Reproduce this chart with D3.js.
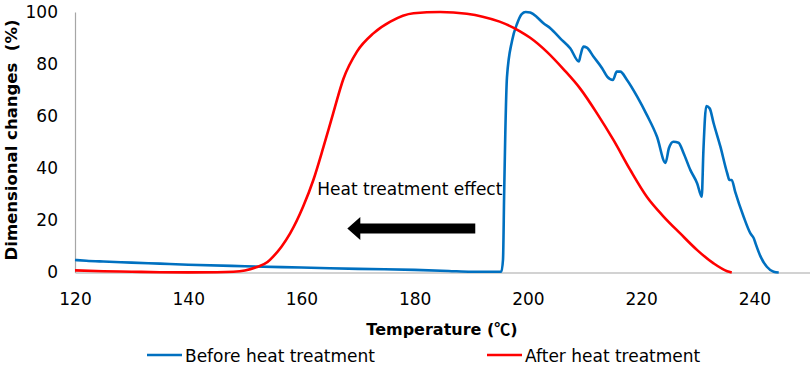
<!DOCTYPE html>
<html>
<head>
<meta charset="utf-8">
<script src="https://cdn.jsdelivr.net/npm/d3@7"></script>
<style>
  body { margin: 0; background: #fff; }
  #chart { width: 810px; height: 370px; }
  text { font-family: "DejaVu Sans", Verdana, sans-serif; fill: #000; }
</style>
</head>
<body>
<div id="chart"></div>
<script>
// Before heat treatment (blue)
var beforeTemp = [120, 122, 125, 130, 135, 140, 150, 160, 170, 180, 186, 190, 195.3,
  195.6, 195.8, 196.0, 196.3, 197.2, 198.1, 198.9, 199.6, 200.4, 201.0, 202.8, 204.0, 205.7,
  207.5, 209.0, 209.3, 209.8, 210.4, 211.6, 213.1, 214.0, 215.0, 215.7, 216.3, 217.5,
  219.3, 221.0, 222.8, 224.3, 224.9, 225.7, 226.6, 227.5, 228.7, 229.9, 230.7, 231.0,
  231.5, 232.1, 232.8, 234.0, 235.2, 235.6, 236.0, 236.6, 238.1, 239.3, 239.9, 240.2,
  241.1, 242.2, 243.4, 244.3];
var beforeVal = [4.8, 4.5, 4.2, 3.8, 3.4, 3.0, 2.4, 1.9, 1.4, 1.0, 0.6, 0.3, 0.3,
  5, 30, 53, 75, 89, 95.6, 99.2, 100, 99.8, 99.1, 95.6, 93.7, 89.9,
  86, 81, 83.5, 86.7, 86.3, 82.8, 78.4, 75.2, 73.9, 77.1, 77.1, 73.9,
  67.5, 60.5, 52.1, 42.1, 47.7, 50.2, 49.8, 45.8, 39.3, 34.2, 29.1, 47,
  63.9, 63.0, 57.3, 48.3, 38.1, 35.5, 35.5, 31, 21.4, 15, 13.1, 11.2,
  6.1, 2.2, 0.3, 0];

// After heat treatment (red)
var afterTemp = [120, 125, 130, 135, 140, 145, 148, 150, 152, 154, 155, 156.5, 158,
  160.3, 162.1, 163.9, 165.6, 167.4, 169.8, 172.7, 175.7, 179.8, 184.5, 189.2, 192,
  195, 198.6, 200.4, 203.4, 206.3, 209.3, 212.2, 215.1, 218.1, 221.0, 224.0, 226.9,
  229.9, 232.8, 235.2, 236.0];
var afterVal = [0.8, 0.5, 0.3, 0.1, 0.05, 0.1, 0.3, 0.8, 2.0, 4.0, 6.1, 10, 15,
  25.3, 35.5, 48.3, 61.1, 74.3, 84.8, 91.8, 96.3, 99.5, 100, 99.3, 98.2,
  96.3, 92.6, 90.1, 84.6, 78.0, 70.4, 61.1, 50.9, 39.3, 29.1, 21.4, 15,
  8.6, 3.5, 0.5, 0];

var xTicks = [120, 140, 160, 180, 200, 220, 240];
var yTicks = [0, 20, 40, 60, 80, 100];

var seriesNames = ["Before heat treatment", "After heat treatment"];
var seriesColors = ["#0070c0", "#ff0000"];

var width = 810;
var height = 370;
var margin = {top: 12, left: 75, right: -1, bottom: 97.5};

var svg = d3.select("#chart")
    .append("svg")
    .attr("width", width)
    .attr("height", height);

var xScale = d3.scaleLinear()
    .domain([120, 250])
    .range([margin.left, width - margin.right]);

var yScale = d3.scaleLinear()
    .domain([0, 100])
    .range([height - margin.bottom, margin.top]);

// axes, no tick marks
var xAxis = svg.append("g")
    .attr("transform", `translate(0,${yScale(0)})`)
    .call(d3.axisBottom(xScale).tickValues(xTicks).tickSize(0).tickPadding(20));

var yAxis = svg.append("g")
    .attr("transform", `translate(${margin.left},0)`)
    .call(d3.axisLeft(yScale).tickValues(yTicks).tickSize(0).tickPadding(17));

svg.selectAll(".domain").attr("stroke", "#a6a6a6").attr("stroke-width", 1.2);
svg.selectAll(".tick text")
    .style("font-family", "DejaVu Sans, Verdana, sans-serif")
    .style("font-size", "17px")
    .attr("fill", "#000");

// axis titles
var xTitle = svg.append("text")
    .attr("x", 442)
    .attr("y", 335)
    .attr("text-anchor", "middle")
    .style("font-size", "16px")
    .style("font-weight", "bold");
xTitle.append("tspan").text("Temperature (");
xTitle.append("tspan").style("font-family", "Noto Sans CJK JP").text("℃");
xTitle.append("tspan").text(")");

svg.append("text")
    .attr("transform", "translate(17,140) rotate(-90)")
    .attr("text-anchor", "middle")
    .style("font-size", "16.5px")
    .style("font-weight", "bold")
    .text("Dimensional changes\u00a0 (%)");

// lines
var line = d3.line()
    .x(function(d) { return xScale(d[0]); })
    .y(function(d) { return yScale(d[1]); })
    .curve(d3.curveMonotoneX);

var before = beforeTemp.map(function(t, i) { return [t, beforeVal[i]]; });
var after = afterTemp.map(function(t, i) { return [t, afterVal[i]]; });

svg.append("path")
    .datum(before)
    .attr("d", line)
    .attr("fill", "none")
    .attr("stroke", seriesColors[0])
    .attr("stroke-width", 2.6)
    .attr("stroke-linejoin", "round");

svg.append("path")
    .datum(after)
    .attr("d", line)
    .attr("fill", "none")
    .attr("stroke", seriesColors[1])
    .attr("stroke-width", 2.6)
    .attr("stroke-linejoin", "round");

// annotation
svg.append("text")
    .attr("x", xScale(162.8))
    .attr("y", 195)
    .style("font-size", "17px")
    .text("Heat treatment effect");

var ax0 = xScale(168.1), ax1 = xScale(190.7), ay = 228.5;
svg.append("path")
    .attr("d", "M" + ax0 + "," + ay +
      "L" + (ax0 + 13) + "," + (ay - 11.5) +
      "L" + (ax0 + 13) + "," + (ay - 5) +
      "L" + ax1 + "," + (ay - 5) +
      "L" + ax1 + "," + (ay + 5) +
      "L" + (ax0 + 13) + "," + (ay + 5) +
      "L" + (ax0 + 13) + "," + (ay + 11.5) + "Z")
    .attr("fill", "#000");

// legend
var legendX = [147, 487];
seriesNames.forEach(function(name, i) {
  svg.append("line")
      .attr("x1", legendX[i])
      .attr("x2", legendX[i] + 35)
      .attr("y1", 355)
      .attr("y2", 355)
      .attr("stroke", seriesColors[i])
      .attr("stroke-width", 2.6);
  svg.append("text")
      .attr("x", legendX[i] + 38)
      .attr("y", 361.5)
      .style("font-size", "17px")
      .text(name);
});
</script>
</body>
</html>
